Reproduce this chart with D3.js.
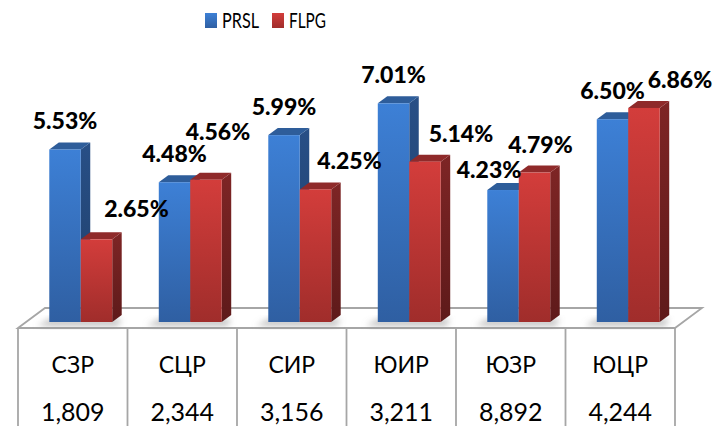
<!DOCTYPE html>
<html>
<head>
<meta charset="utf-8">
<script src="https://cdn.jsdelivr.net/npm/d3@7"></script>
<style>
  body { margin: 0; background: #fff; }
  svg { display: block; font-family: Lato, "Noto Sans", sans-serif; }
</style>
</head>
<body>
<div id="chart"></div>
<script>
// data
const regions = ["СЗР", "СЦР", "СИР", "ЮИР", "ЮЗР", "ЮЦР"];
const counts = ["1,809", "2,344", "3,156", "3,211", "8,892", "4,244"];
const seriesNames = ["PRSL", "FLPG"];
const prsl = [5.53, 4.48, 5.99, 7.01, 4.23, 6.50];
const flpg = [2.65, 4.56, 4.25, 5.14, 4.79, 6.86];

// label nudges (dx, dy from default spot above the bar), like the hand-moved labels in the original
const prslNudge = [[0, 0], [0, 0], [0, 0], [0, 0], [-14, 8], [0, 0]];
const flpgNudge = [[40, -2], [12, -20], [34, 0], [36, 0], [6, 0], [36, 0]];

const width = 720, height = 426;
const floorY = 328;            // front edge of the floor / top of the table
const floorDepth = {x: 27, y: -20};
const barShift = {x: 8, y: -6};  // where the bars stand on the floor
const depth = {x: 9.5, y: -7};   // bar depth

const svg = d3.select("#chart").append("svg")
  .attr("width", width)
  .attr("height", height);

const defs = svg.append("defs");
function grad(id, top, bottom) {
  const g = defs.append("linearGradient").attr("id", id)
    .attr("x1", 0).attr("y1", 0).attr("x2", 0).attr("y2", 1);
  g.append("stop").attr("offset", "0%").attr("stop-color", top);
  g.append("stop").attr("offset", "100%").attr("stop-color", bottom);
}
grad("blueFront", "#3d80d6", "#2f5fa2");
grad("blueSide", "#284f86", "#1f3f6b");
grad("redFront", "#d33d3b", "#a02d2b");
grad("redSide", "#7e2525", "#5e1a1a");
defs.append("filter").attr("id", "blur")
  .attr("x", "-50%").attr("y", "-50%").attr("width", "200%").attr("height", "200%")
  .append("feGaussianBlur").attr("stdDeviation", 3);

const colors = {
  PRSL: {front: "url(#blueFront)", side: "url(#blueSide)", top: "#2e5d9a"},
  FLPG: {front: "url(#redFront)", side: "url(#redSide)", top: "#8f2a2a"}
};

// scales
const x = d3.scaleBand()
  .domain(regions)
  .range([18, 675]);

const xs = d3.scaleBand()
  .domain(seriesNames)
  .range([0, x.bandwidth()])
  .paddingOuter(0.74);

const y = d3.scaleLinear()
  .domain([0, 8])
  .range([floorY + barShift.y, floorY + barShift.y - 8 * 31.2]);

const rows = regions.map((r, i) => ({
  region: r,
  values: [
    {series: "PRSL", value: prsl[i], nudge: prslNudge[i]},
    {series: "FLPG", value: flpg[i], nudge: flpgNudge[i]}
  ]
}));

// floor
const x0 = x.range()[0], x1 = x.range()[1];
svg.append("polygon")
  .attr("points", [
    [x0, floorY], [x0 + floorDepth.x, floorY + floorDepth.y],
    [x1 + floorDepth.x, floorY + floorDepth.y], [x1, floorY]
  ].join(" "))
  .attr("fill", "#fff")
  .attr("stroke", "#a6a6a6")
  .attr("stroke-width", 1.8);

// soft shadows on the floor
const base = y(0);
svg.append("g").attr("filter", "url(#blur)")
  .selectAll("polygon")
  .data(rows)
  .join("polygon")
    .attr("points", d => {
      const l = x(d.region) + barShift.x + xs("PRSL");
      const r = x(d.region) + barShift.x + xs("FLPG") + xs.bandwidth() + depth.x;
      return [[l - 12, base + 4], [l, base - 3], [r, base - 3], [r - 4, base + 4]].join(" ");
    })
    .attr("fill", "#8c8c8c")
    .attr("opacity", 0.55);

// 3d bars
const groups = svg.append("g").selectAll("g")
  .data(rows)
  .join("g");

const bars = groups.selectAll("g")
  .data(d => d.values.map(v => Object.assign({region: d.region}, v)))
  .join("g");

const bx = d => x(d.region) + barShift.x + xs(d.series);
const bw = xs.bandwidth();

bars.append("polygon")
  .attr("points", d => {
    const l = bx(d) + bw, t = y(d.value);
    return [[l, t], [l + depth.x, t + depth.y], [l + depth.x, base + depth.y], [l, base]].join(" ");
  })
  .attr("fill", d => colors[d.series].side);

bars.append("polygon")
  .attr("points", d => {
    const l = bx(d), t = y(d.value);
    return [[l, t], [l + depth.x, t + depth.y], [l + bw + depth.x, t + depth.y], [l + bw, t]].join(" ");
  })
  .attr("fill", d => colors[d.series].top);

bars.append("rect")
  .attr("x", bx)
  .attr("y", d => y(d.value))
  .attr("width", bw)
  .attr("height", d => base - y(d.value))
  .attr("fill", d => colors[d.series].front);

// data labels
svg.append("g").selectAll("text")
  .data(rows.flatMap(d => d.values.map(v => Object.assign({region: d.region}, v))))
  .join("text")
    .attr("x", d => bx(d) + bw / 2 + d.nudge[0])
    .attr("y", d => y(d.value) - 20 + d.nudge[1])
    .attr("text-anchor", "middle")
    .attr("font-size", 23)
    .attr("font-weight", 900)
    .attr("fill", "#000")
    .text(d => d.value.toFixed(2) + "%");

// data table under the chart
const table = svg.append("g");
const edges = regions.map(r => x(r)).concat([x1]);
table.selectAll("line.v")
  .data(edges)
  .join("line")
    .attr("class", "v")
    .attr("x1", d => d).attr("x2", d => d)
    .attr("y1", floorY).attr("y2", height + 2)
    .attr("stroke", "#a6a6a6")
    .attr("stroke-width", 1.8);

table.selectAll("text.cat")
  .data(regions)
  .join("text")
    .attr("class", "cat")
    .attr("x", d => x(d) + x.bandwidth() / 2)
    .attr("y", 373)
    .attr("text-anchor", "middle")
    .attr("font-size", 23)
    .text(d => d);

table.selectAll("text.num")
  .data(counts)
  .join("text")
    .attr("class", "num")
    .attr("x", (d, i) => x(regions[i]) + x.bandwidth() / 2)
    .attr("y", 421)
    .attr("text-anchor", "middle")
    .attr("font-size", 25)
    .text(d => d);

// legend
const legend = svg.append("g").attr("transform", "translate(205,0)");
const item = legend.selectAll("g")
  .data(seriesNames)
  .join("g")
    .attr("transform", (d, i) => `translate(${i * 67},0)`);
item.append("rect")
  .attr("x", 0).attr("y", 13)
  .attr("width", 12).attr("height", 15)
  .attr("fill", d => colors[d].front);
item.append("text")
  .attr("x", 17).attr("y", 28)
  .attr("font-size", 21)
  .attr("textLength", 37)
  .attr("lengthAdjust", "spacingAndGlyphs")
  .text(d => d);
</script>
</body>
</html>
